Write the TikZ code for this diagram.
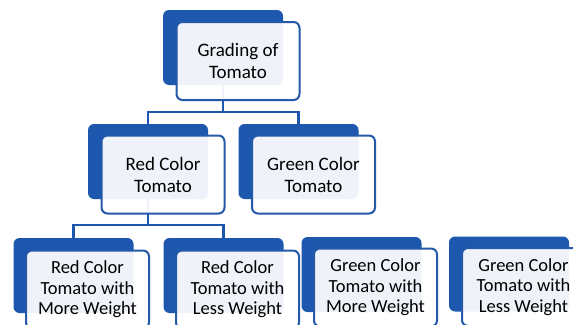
\documentclass[tikz,border=0pt]{standalone}
\usepackage{fontspec}
\setmainfont{Carlito}
\usetikzlibrary{calc, backgrounds}
\definecolor{darkfill}{HTML}{1D57AE}
\definecolor{boxline}{HTML}{2459A9}
\tikzset{
  back/.style  = {fill=darkfill, rounded corners=6pt, inner sep=0pt,
                  minimum width=120pt, minimum height=75pt},
  front/.style = {draw=boxline, line width=2pt, fill=white, fill opacity=0.935,
                  text opacity=1, rounded corners=6pt, align=center,
                  minimum width=123pt, minimum height=78pt, inner sep=2pt,
                  font=\fontsize{19}{22}\selectfont},
  leaf/.style  = {front, font=\fontsize{18.5}{20.5}\selectfont},
  conn/.style  = {draw=darkfill, line width=2.3pt},
}
\begin{document}
\begin{tikzpicture}[x=1pt, y=-1pt]
\useasboundingbox (0,0) rectangle (573,324);

% top
\node[back] (gradeb) at (223,47.5) {};
\node[front] (grade) at ($(gradeb.center)+(15,13.5)$) {Grading of\\Tomato};

% second row
\node[back] (redb) at (148,161.5) {};
\node[front] (red) at ($(redb.center)+(15,13)$) {Red Color\\Tomato};
\node[back] (greenb) at (298.5,161.5) {};
\node[front] (green) at ($(greenb.center)+(15,13)$) {Green Color\\Tomato};

% third row
\node[back] (redmoreb) at (73.5,275.5) {};
\node[leaf] (redmore) at ($(redmoreb.center)+(14,14)$) {Red Color\\Tomato with\\More Weight};
\node[back] (redlessb) at (223.5,275.5) {};
\node[leaf] (redless) at ($(redlessb.center)+(14,14)$) {Red Color\\Tomato with\\Less Weight};
\node[back] (greenmoreb) at (361.5,274.5) {};
\node[leaf] (greenmore) at ($(greenmoreb.center)+(14,13)$) {Green Color\\Tomato with\\More Weight};
\node[back] (greenlessb) at (509,274) {};
\node[leaf] (greenless) at ($(greenlessb.center)+(14.5,13)$) {Green Color\\Tomato with\\Less Weight};

\begin{scope}[on background layer]
  \draw[conn] (gradeb.south) -- ++(0,27) -| (redb.north);
  \draw[conn] (gradeb.south) -- ++(0,27) -| (greenb.north);
  \draw[conn] (redb.south) -- ++(0,26) -| (redmoreb.north);
  \draw[conn] (redb.south) -- ++(0,26) -| (redlessb.north);
\end{scope}

\end{tikzpicture}
\end{document}
